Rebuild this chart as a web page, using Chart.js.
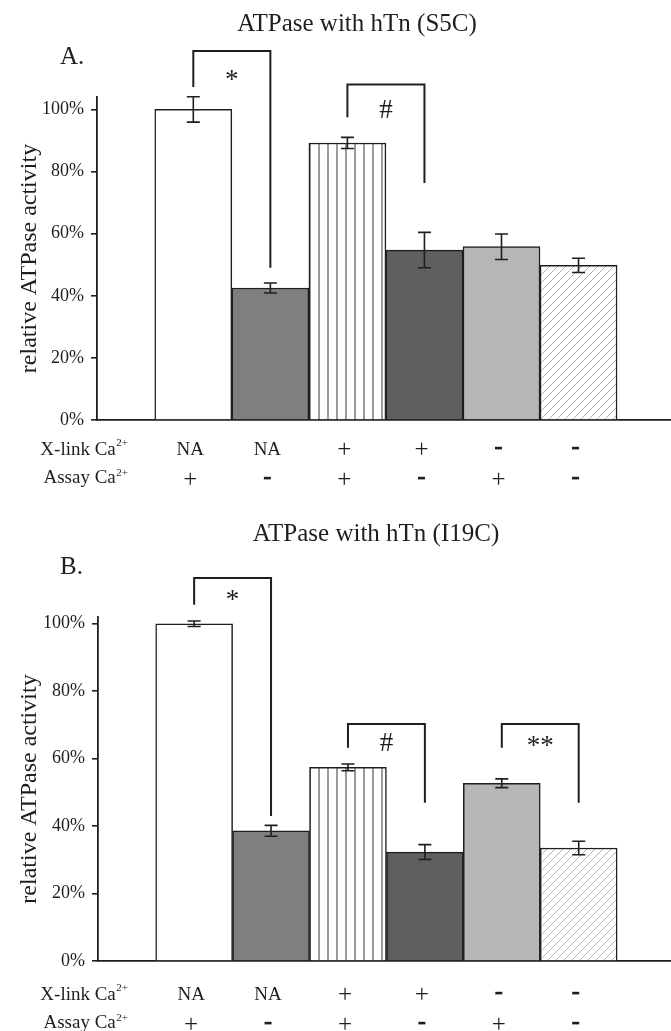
<!DOCTYPE html>
<html lang="en">
<head>
  <meta charset="UTF-8" />
  <title>ATPase with hTn</title>
  <script src="https://cdn.jsdelivr.net/npm/chart.js"></script>
  <style>
    body { margin: 0; background: #fff; }
    .painel { position: absolute; left: 0; width: 671px; }
    #painelA { top: 0; height: 500px; }
    #painelB { top: 500px; height: 531px; }
  </style>
</head>
<body>
  <div class="painel" id="painelA"><canvas id="graficoS5C"></canvas></div>
  <div class="painel" id="painelB"><canvas id="graficoI19C"></canvas></div>

<script>
  // condicoes de cada barra
  const xlinkCa = ['NA', 'NA', '+', '+', '-', '-'];
  const assayCa = ['+', '-', '+', '-', '+', '-'];
  const yTicks = [0, 20, 40, 60, 80, 100];

  // painel A - hTn (S5C)
  const atividadeS5C = [100, 42.5, 89.2, 54.7, 55.8, 49.8];
  const erroS5C = [4.1, 1.6, 1.8, 5.7, 4.1, 2.3];
  const colchetesS5C = [
    { de: 0, ate: 1, topo: 118.8, esq: 107.2, dir: 49, texto: '*' },
    { de: 2, ate: 3, topo: 108, esq: 97.5, dir: 76.3, texto: '#' }
  ];

  // painel B - hTn (I19C)
  const atividadeI19C = [100, 38.6, 57.4, 32.3, 52.7, 33.5];
  const erroI19C = [0.8, 1.6, 1.0, 2.2, 1.3, 2.0];
  const colchetesI19C = [
    { de: 0, ate: 1, topo: 113.6, esq: 105.6, dir: 43, texto: '*' },
    { de: 2, ate: 3, topo: 70.3, esq: 63.2, dir: 46.9, texto: '#' },
    { de: 4, ate: 5, topo: 70.3, esq: 63.2, dir: 46.9, texto: '**' }
  ];

  const FONTE = '"Liberation Serif", "Times New Roman", serif';
  const TINTA = '#1e1e1e';

  function padraoListras() {
    const c = document.createElement('canvas');
    c.width = 9; c.height = 10;
    const g = c.getContext('2d');
    g.fillStyle = '#ffffff'; g.fillRect(0, 0, 9, 10);
    g.fillStyle = '#9a9a9a'; g.fillRect(3, 0, 2, 10);
    return g.createPattern(c, 'repeat');
  }

  function padraoHachura() {
    const c = document.createElement('canvas');
    c.width = 8; c.height = 8;
    const g = c.getContext('2d');
    g.fillStyle = '#ffffff'; g.fillRect(0, 0, 8, 8);
    g.strokeStyle = '#b4b4b4'; g.lineWidth = 1;
    g.beginPath();
    g.moveTo(-1, 1); g.lineTo(1, -1);
    g.moveTo(0, 8); g.lineTo(8, 0);
    g.moveTo(7, 9); g.lineTo(9, 7);
    g.stroke();
    return g.createPattern(c, 'repeat');
  }

  const preenchimentos = ['#ffffff', '#7f7f7f', padraoListras(), '#5f5f5f', '#b6b6b6', padraoHachura()];

  function textoCentrado(ctx, texto, x, cy) {
    const m = ctx.measureText(texto);
    ctx.fillText(texto, x, cy + (m.actualBoundingBoxAscent - m.actualBoundingBoxDescent) / 2);
  }

  // desenha barras de erro, colchetes, titulo e linhas de condicoes
  const anotacoes = {
    id: 'anotacoes',
    afterDraw(chart, args, op) {
      const ctx = chart.ctx;
      const x = chart.scales.x, y = chart.scales.y;
      const area = chart.chartArea;
      ctx.save();
      ctx.strokeStyle = TINTA;
      ctx.fillStyle = TINTA;
      ctx.textBaseline = 'alphabetic';

      // barras de erro
      ctx.lineWidth = 1.6;
      op.valores.forEach((v, i) => {
        const px = x.getPixelForValue(i);
        const cima = y.getPixelForValue(v + op.erros[i]);
        const baixo = y.getPixelForValue(v - op.erros[i]);
        ctx.beginPath();
        ctx.moveTo(px, cima); ctx.lineTo(px, baixo);
        ctx.moveTo(px - 6.5, cima); ctx.lineTo(px + 6.5, cima);
        ctx.moveTo(px - 6.5, baixo); ctx.lineTo(px + 6.5, baixo);
        ctx.stroke();
      });

      // colchetes de significancia
      ctx.lineWidth = 2;
      ctx.font = '27px ' + FONTE;
      ctx.textAlign = 'center';
      op.colchetes.forEach(c => {
        const x1 = x.getPixelForValue(c.de), x2 = x.getPixelForValue(c.ate);
        const yt = y.getPixelForValue(c.topo);
        ctx.beginPath();
        ctx.moveTo(x1, y.getPixelForValue(c.esq));
        ctx.lineTo(x1, yt);
        ctx.lineTo(x2, yt);
        ctx.lineTo(x2, y.getPixelForValue(c.dir));
        ctx.stroke();
        textoCentrado(ctx, c.texto, (x1 + x2) / 2, yt + op.deslocSimbolo);
      });

      // titulo e letra do painel
      ctx.font = '25px ' + FONTE;
      textoCentrado(ctx, op.titulo, op.tituloX, op.tituloY);
      ctx.textAlign = 'left';
      textoCentrado(ctx, op.letra, 60, op.letraY);

      // linhas X-link / Assay
      const linhas = [['X-link Ca', xlinkCa], ['Assay Ca', assayCa]];
      linhas.forEach((linha, k) => {
        const cy = area.bottom + op.linhasY[k];
        ctx.font = '11px ' + FONTE;
        const wSup = ctx.measureText('2+').width;
        ctx.textAlign = 'right';
        ctx.fillText('2+', 128, cy - 2);
        ctx.font = '19px ' + FONTE;
        textoCentrado(ctx, linha[0], 128 - wSup - 0.5, cy);
        ctx.textAlign = 'center';
        linha[1].forEach((s, i) => {
          const px = x.getPixelForValue(i) - 3;
          if (s === '+') {
            ctx.font = '25px ' + FONTE;
            textoCentrado(ctx, '+', px, cy);
          } else if (s === '-') {
            ctx.fillRect(px - 3.5, cy - 1.2, 7, 2.6);
          } else {
            ctx.font = '19px ' + FONTE;
            textoCentrado(ctx, s, px, cy);
          }
        });
      });
      ctx.restore();
    }
  };

  function criarGrafico(idCanvas, valores, erros, colchetes, cfg) {
    const config = {
      type: 'bar',
      data: {
        datasets: [{
          data: valores.map((v, i) => ({ x: i, y: v })),
          backgroundColor: preenchimentos,
          borderColor: TINTA,
          borderWidth: 1.5,
          borderSkipped: 'bottom',
          barPercentage: 1,
          categoryPercentage: 1
        }]
      },
      options: {
        responsive: true,
        maintainAspectRatio: false,
        animation: false,
        layout: { padding: { top: cfg.topo, bottom: cfg.baixo, left: 0, right: 0 } },
        plugins: {
          legend: { display: false },
          tooltip: { enabled: false },
          anotacoes: {
            valores: valores,
            erros: erros,
            colchetes: colchetes,
            titulo: cfg.titulo,
            tituloX: cfg.tituloX,
            tituloY: cfg.tituloY,
            letra: cfg.letra,
            letraY: cfg.letraY,
            linhasY: cfg.linhasY,
            deslocSimbolo: cfg.deslocSimbolo
          }
        },
        scales: {
          x: {
            type: 'linear',
            offset: false,
            min: -1.25,
            max: 6.2,
            ticks: { display: false },
            grid: { display: false, drawTicks: false, offset: false },
            border: { display: true, color: TINTA, width: 1.8 },
            afterFit: s => { s.height = 0; }
          },
          y: {
            min: 0,
            max: cfg.yMax,
            afterBuildTicks: s => { s.ticks = yTicks.map(v => ({ value: v })); },
            afterFit: s => { s.width = cfg.eixoX; },
            ticks: {
              color: TINTA,
              padding: 7,
              font: { family: FONTE, size: 18 },
              callback: v => v + '%'
            },
            grid: { display: true, drawOnChartArea: false, drawTicks: true, tickLength: 6, color: TINTA, lineWidth: 1.6 },
            border: { display: true, color: TINTA, width: 1.8 },
            title: {
              display: true,
              text: 'relative ATPase activity',
              color: TINTA,
              font: { family: FONTE, size: 24 },
              padding: { top: 15, bottom: 0 }
            }
          }
        }
      },
      plugins: [anotacoes]
    };
    return new Chart(document.getElementById(idCanvas), config);
  }

  criarGrafico('graficoS5C', atividadeS5C, erroS5C, colchetesS5C, {
    topo: 97, baixo: 80, yMax: 104, eixoX: 97,
    titulo: 'ATPase with hTn (S5C)', tituloX: 357, tituloY: 25,
    letra: 'A.', letraY: 55, linhasY: [28, 58], deslocSimbolo: 24
  });

  criarGrafico('graficoI19C', atividadeI19C, erroI19C, colchetesI19C, {
    topo: 117, baixo: 70, yMax: 102, eixoX: 98,
    titulo: 'ATPase with hTn (I19C)', tituloX: 376, tituloY: 35,
    letra: 'B.', letraY: 65, linhasY: [32, 62], deslocSimbolo: 18
  });
</script>
</body>
</html>
